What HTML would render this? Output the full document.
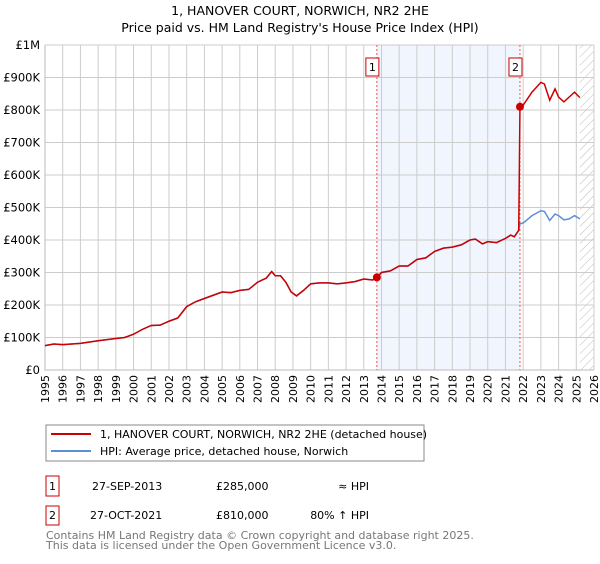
<!DOCTYPE html>
<html><head><meta charset="utf-8"><style>
body{margin:0;background:#fff;font-family:"DejaVu Sans","Liberation Sans",sans-serif;}
svg text{font-family:"DejaVu Sans","Liberation Sans",sans-serif;}
</style></head><body>
<svg id="c" width="600" height="560" xmlns="http://www.w3.org/2000/svg">
<defs><pattern id="hatch" width="6" height="6" patternUnits="userSpaceOnUse" patternTransform="rotate(45)"><line x1="0" y1="0" x2="0" y2="6" stroke="#bbb" stroke-width="1"/></pattern></defs>
<text x="300" y="15" text-anchor="middle" font-size="12.5">1, HANOVER COURT, NORWICH, NR2 2HE</text>
<text x="300" y="32" text-anchor="middle" font-size="12.5">Price paid vs. HM Land Registry's House Price Index (HPI)</text>
<g id="plot"></g>
<rect x="46" y="425" width="378" height="36" fill="#fff" stroke="#888"/>
<line x1="51" y1="434" x2="91" y2="434" stroke="#cc0000" stroke-width="2"/>
<text x="100" y="438" font-size="11">1, HANOVER COURT, NORWICH, NR2 2HE (detached house)</text>
<line x1="51" y1="451" x2="91" y2="451" stroke="#5b8fd4" stroke-width="2"/>
<text x="100" y="455" font-size="11">HPI: Average price, detached house, Norwich</text>
<rect x="46" y="476" width="13" height="20" fill="none" stroke="#cc0000"/>
<text x="52.5" y="490" text-anchor="middle" font-size="11">1</text>
<text x="92" y="490" font-size="11">27-SEP-2013</text>
<text x="216" y="490" font-size="11">£285,000</text>
<text x="369" y="490" text-anchor="end" font-size="11">≈ HPI</text>
<rect x="46" y="506" width="13" height="19" fill="none" stroke="#cc0000"/>
<text x="52.5" y="519" text-anchor="middle" font-size="11">2</text>
<text x="90" y="519" font-size="11">27-OCT-2021</text>
<text x="216" y="519" font-size="11">£810,000</text>
<text x="369" y="519" text-anchor="end" font-size="11">80% ↑ HPI</text>
<text x="46" y="539" font-size="11" fill="#777">Contains HM Land Registry data © Crown copyright and database right 2025.</text>
<text x="46" y="549" font-size="11" fill="#777">This data is licensed under the Open Government Licence v3.0.</text>
</svg>
<script>
const hpiYears=[1995,1995.5,1996,1997,1998,1999,1999.5,2000,2000.5,2001,2001.5,2002,2002.5,2003,2003.5,2004,2004.5,2005,2005.5,2006,2006.5,2007,2007.5,2007.8,2008,2008.3,2008.6,2008.9,2009.2,2009.6,2010,2010.5,2011,2011.5,2012,2012.5,2013,2013.5,2013.75,2014,2014.5,2015,2015.5,2016,2016.5,2017,2017.5,2018,2018.5,2019,2019.3,2019.7,2020,2020.5,2021,2021.3,2021.5,2021.75,2021.82,2022,2022.5,2023,2023.2,2023.5,2023.8,2024,2024.3,2024.6,2024.9,2025.2];
const hpiValues=[75,80,78,82,90,97,100,110,125,137,138,150,160,195,210,220,230,240,238,245,248,270,283,303,290,290,270,240,228,245,265,268,268,265,268,272,280,277,285,300,305,320,320,340,345,365,375,378,385,400,403,388,395,392,405,415,410,430,450,452,475,490,488,460,480,475,462,465,475,465];
const propYears=[1995,1995.5,1996,1997,1998,1999,1999.5,2000,2000.5,2001,2001.5,2002,2002.5,2003,2003.5,2004,2004.5,2005,2005.5,2006,2006.5,2007,2007.5,2007.8,2008,2008.3,2008.6,2008.9,2009.2,2009.6,2010,2010.5,2011,2011.5,2012,2012.5,2013,2013.5,2013.75,2014,2014.5,2015,2015.5,2016,2016.5,2017,2017.5,2018,2018.5,2019,2019.3,2019.7,2020,2020.5,2021,2021.3,2021.5,2021.75,2021.82,2022,2022.5,2023,2023.2,2023.5,2023.8,2024,2024.3,2024.6,2024.9,2025.2];
const propValues=[75,80,78,82,90,97,100,110,125,137,138,150,160,195,210,220,230,240,238,245,248,270,283,303,290,290,270,240,228,245,265,268,268,265,268,272,280,277,285,300,305,320,320,340,345,365,375,378,385,400,403,388,395,392,405,415,410,430,810,815,855,885,880,830,865,840,825,840,855,838];
const saleYears=[2013.74,2021.82];
const saleValues=[285,810];
const yTicks=[0,100,200,300,400,500,600,700,800,900,1000];
const yTickLabels=["£0","£100K","£200K","£300K","£400K","£500K","£600K","£700K","£800K","£900K","£1M"];
const xTicks=[];for(let y=1995;y<=2026;y++)xTicks.push(y);

const L=45,R=594,T=45,B=370,NS="http://www.w3.org/2000/svg";
const x=v=>L+(v-1995)/31*(R-L);
const y=v=>B-v/1000*(B-T);
const g=document.getElementById('plot');
function mk(t,a){const e=document.createElementNS(NS,t);for(const k in a)e.setAttribute(k,a[k]);g.appendChild(e);return e;}
let e;
e=mk('rect',{x:x(saleYears[0]),y:T,width:x(saleYears[1])-x(saleYears[0]),height:B-T,fill:'#eef3fc',opacity:0.8});


e=mk('rect',{x:x(2025.2),y:T,width:R-x(2025.2),height:B-T,fill:'url(#hatch)'});


xTicks.forEach(t=>{
 e=mk('line',{x1:x(t),x2:x(t),y1:T,y2:B,stroke:'#ccc','stroke-width':1});
 
 
 e=mk('text',{x:0,y:0,'font-size':11,'text-anchor':'end',transform:`translate(${x(t)+4},${B+5}) rotate(-90)`});
 e.textContent=t;
 
 
});
yTicks.forEach((t,i)=>{
 e=mk('line',{x1:L,x2:R,y1:y(t),y2:y(t),stroke:'#ccc','stroke-width':1});
 
 
 e=mk('text',{x:L-5,y:y(t)+4,'font-size':11.5,'text-anchor':'end'});
 e.textContent=yTickLabels[i];
 
 
});
e=mk('path',{d:`M${L},${T}V${B}H${R}`,fill:'none',stroke:'#bbb'});


saleYears.forEach((s,i)=>{
 e=mk('line',{x1:x(s),x2:x(s),y1:T,y2:B,stroke:'#e55','stroke-width':1,'stroke-dasharray':'2,2'});
 
 
 e=mk('rect',{x:x(s)-11,y:58,width:13,height:18,fill:'#fff',stroke:'#cc0000'});
 
 
 e=mk('text',{x:x(s)-4.5,y:71,'font-size':11,'text-anchor':'middle'});
 e.textContent=i+1;
 
 
});
e=mk('polyline',{points:hpiYears.map((v,i)=>x(v)+','+y(hpiValues[i])).join(' '),fill:'none',stroke:'#5b8fd4','stroke-width':1.5});


e=mk('polyline',{points:propYears.map((v,i)=>x(v)+','+y(propValues[i])).join(' '),fill:'none',stroke:'#cc0000','stroke-width':1.5});


saleYears.forEach((s,i)=>{
 e=mk('circle',{cx:x(s),cy:y(saleValues[i]),r:4,fill:'#cc0000'});
 
 
});
</script>
</body></html>
